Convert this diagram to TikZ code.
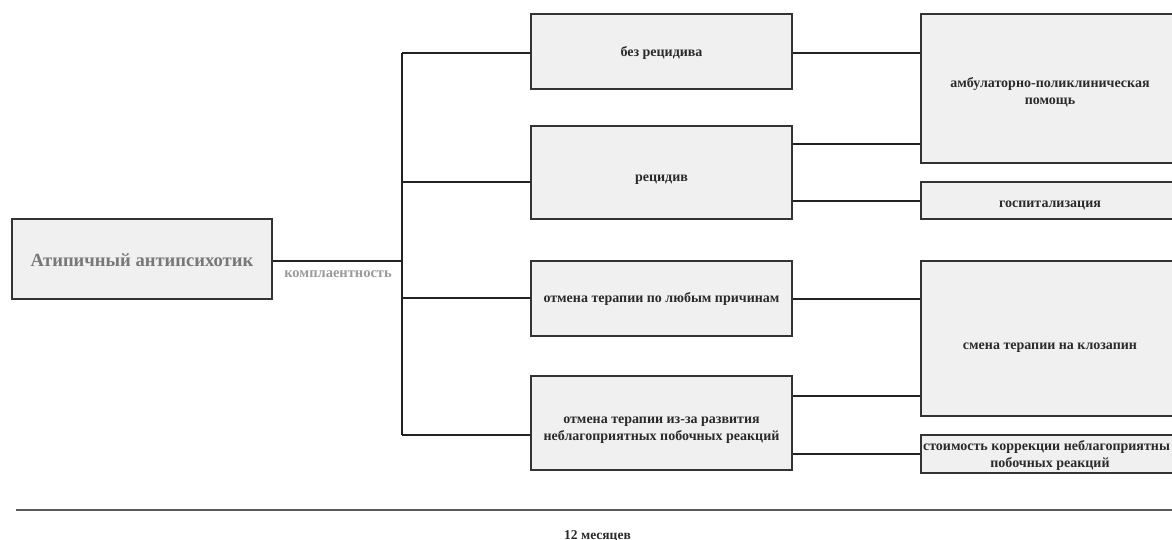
\documentclass[tikz,border=0pt]{standalone}
\usepackage{fontspec}
\setmainfont{Liberation Serif}
\newfontfamily\diafont[BoldFont={Liberation Serif Bold}]{Liberation Serif}
\definecolor{boxline}{HTML}{333333}
\definecolor{boxfill}{HTML}{F0F0F0}
\definecolor{txt}{HTML}{2A2A2A}
\definecolor{maintxt}{HTML}{787878}
\definecolor{lbltxt}{HTML}{9A9A9A}
\definecolor{conn}{HTML}{222222}
\definecolor{timeline}{HTML}{5A5A5A}
\newcommand{\lowtext}[2]{\raisebox{-#1}[\height][\depth]{\begin{tabular}{@{}c@{}}#2\end{tabular}}}
\tikzset{
  box/.style={draw=boxline, fill=boxfill, line width=1.3pt, inner sep=0pt,
    align=center, text=txt, font=\diafont\bfseries\fontsize{14}{17}\selectfont},
  mainbox/.style={box, text=maintxt, font=\diafont\bfseries\fontsize{18.6}{21}\selectfont},
  connector/.style={draw=conn, line width=1.3pt},
  lbl/.style={inner sep=0pt, text=lbltxt, font=\diafont\bfseries\fontsize{14.5}{16}\selectfont},
  timetxt/.style={inner sep=0pt, text=txt, font=\diafont\bfseries\fontsize{13.5}{16}\selectfont}
}
\begin{document}
\begin{tikzpicture}[x=1pt,y=-1pt]
\useasboundingbox (0,0) rectangle (1172,540);
\fill[white] (0,0) rectangle (1172,540);
\begin{scope}
\clip (0,0) rectangle (1172,540);
% nodes
\node[mainbox, minimum width=260, minimum height=80] (main) at (142,259) {\lowtext{3pt}{Атипичный антипсихотик}};
\node[box, minimum width=261, minimum height=75] (b1) at (661.5,51.5) {\lowtext{2pt}{без рецидива}};
\node[box, minimum width=261, minimum height=93] (b2) at (661.5,172.5) {\lowtext{6pt}{рецидив}};
\node[box, minimum width=261, minimum height=75] (b3) at (661.5,298.5) {\lowtext{1pt}{отмена терапии по любым причинам}};
\node[box, minimum width=261, minimum height=94] (b4) at (661.5,423) {\lowtext{6pt}{отмена терапии из-за развития\\неблагоприятных побочных реакций}};
\node[box, minimum width=258, minimum height=149] (r1) at (1050,88.5) {\lowtext{4pt}{амбулаторно-поликлиническая\\помощь}};
\node[box, minimum width=258, minimum height=37] (r2) at (1050,200.5) {\lowtext{4pt}{госпитализация}};
\node[box, minimum width=258, minimum height=155] (r3) at (1050,338.5) {\lowtext{8pt}{смена терапии на клозапин}};
\node[box, minimum width=258, minimum height=38] (r4) at (1050,454) {\lowtext{1.5pt}{стоимость коррекции неблагоприятны\hphantom{х}\\побочных реакций}};
% junction coordinates
\coordinate (j) at (402,261);
\coordinate (t1) at (402,53);
\coordinate (t2) at (402,182);
\coordinate (t3) at (402,298);
\coordinate (t4) at (402,435);
% connectors
\draw[connector] (main.east |- j) -- (j);
\draw[connector] (t1) -- (t4);
\draw[connector] (t1) -- (b1.west |- t1);
\draw[connector] (t2) -- (b2.west |- t2);
\draw[connector] (t3) -- (b3.west |- t3);
\draw[connector] (t4) -- (b4.west |- t4);
\draw[connector] (b1.east |- 0,53) -- (r1.west |- 0,53);
\draw[connector] (b2.east |- 0,144) -- (r1.west |- 0,144);
\draw[connector] (b2.east |- 0,201) -- (r2.west |- 0,201);
\draw[connector] (b3.east |- 0,299) -- (r3.west |- 0,299);
\draw[connector] (b4.east |- 0,396) -- (r3.west |- 0,396);
\draw[connector] (b4.east |- 0,454) -- (r4.west |- 0,454);
% label
\node[lbl] (compl) at (338,274) {комплаентность};
% timeline
\coordinate (tl) at (16,510);
\coordinate (tr) at (1180,510);
\draw[draw=timeline, line width=1.3pt] (tl) -- (tr);
\node[timetxt, anchor=base] (months) at (597.5,539) {12 месяцев};
\end{scope}
\end{tikzpicture}
\end{document}
